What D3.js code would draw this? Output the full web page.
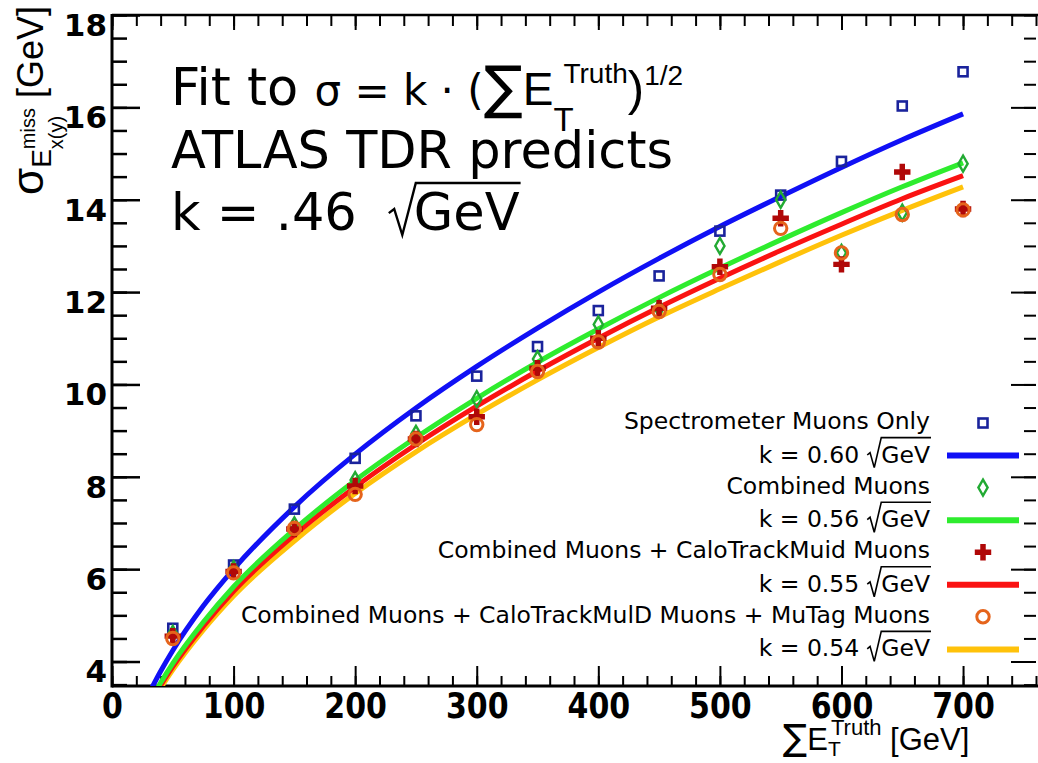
<!DOCTYPE html>
<html>
<head>
<meta charset="utf-8">
<script src="https://cdn.jsdelivr.net/npm/d3@7"></script>
<style>
  body { margin: 0; background: #fff; }
  svg { display: block; }
  svg text { white-space: pre; }
</style>
</head>
<body>
<div id="plot"></div>
<script>
// sum E_T^Truth bins (GeV)
const sumEt = [50, 100, 150, 200, 250, 300, 350, 400, 450, 500, 550, 600, 650, 700];
// sigma of E_x(y)^miss (GeV)
const spectrometer = [4.72, 6.09, 7.30, 8.40, 9.32, 10.18, 10.82, 11.60, 12.35, 13.32, 14.10, 14.83, 16.03, 16.77];
const combined     = [4.60, 6.00, 6.95, 7.93, 8.93, 9.68, 10.55, 11.30, 11.65, 13.00, 14.00, 12.85, 13.72, 14.78];
const caloTrack    = [4.55, 5.95, 6.87, 7.80, 8.82, 9.30, 10.35, 11.00, 11.65, 12.55, 13.60, 12.60, 14.60, 13.80];
const muTag        = [4.50, 5.92, 6.88, 7.62, 8.82, 9.13, 10.28, 10.92, 11.58, 12.38, 13.38, 12.85, 13.68, 13.78];

// fitted curves
const fitX      = [30, 40, 50, 75, 100, 150, 200, 250, 300, 350, 400, 450, 500, 550, 600, 650, 700];
const fitSpectr = [3.29, 3.79, 4.24, 5.20, 6.00, 7.35, 8.49, 9.49, 10.39, 11.22, 12.00, 12.73, 13.42, 14.07, 14.70, 15.30, 15.86];
const fitComb   = [3.07, 3.54, 3.96, 4.85, 5.62, 6.86, 7.92, 8.85, 9.70, 10.48, 11.20, 11.88, 12.52, 13.13, 13.72, 14.28, 14.80];
const fitCalo   = [3.01, 3.48, 3.89, 4.76, 5.52, 6.74, 7.78, 8.70, 9.53, 10.29, 11.00, 11.67, 12.30, 12.90, 13.47, 14.02, 14.52];
const fitMuTag  = [2.96, 3.42, 3.82, 4.68, 5.42, 6.61, 7.64, 8.54, 9.35, 10.10, 10.80, 11.46, 12.07, 12.66, 13.23, 13.77, 14.28];

const legendNames = ["Spectrometer Muons Only", "Combined Muons",
  "Combined Muons + CaloTrackMuid Muons", "Combined Muons + CaloTrackMulD Muons + MuTag Muons"];
const fitK = ["0.60", "0.56", "0.55", "0.54"];

const xTicks = [0, 100, 200, 300, 400, 500, 600, 700];
const yTicks = [4, 6, 8, 10, 12, 14, 16, 18];

const W = 1038, H = 763;
const frameL = 112, frameR = 1036, frameT = 15, frameB = 686;

const series = [
  { pts: spectrometer, fit: fitSpectr, mark: "square", mcol: "#1a239c", lcol: "#1010f5" },
  { pts: combined,     fit: fitComb,   mark: "diamond", mcol: "#22aa33", lcol: "#2eec2e" },
  { pts: caloTrack,    fit: fitCalo,   mark: "cross",  mcol: "#b00808", lcol: "#fa1212" },
  { pts: muTag,        fit: fitMuTag,  mark: "circle", mcol: "#e5641c", lcol: "#ffc20a" }
];

const x = d3.scaleLinear().domain([0, 760]).range([frameL, frameR]);
const y = d3.scaleLinear().domain([3.47, 18]).range([frameB, frameT]);

const svg = d3.select("#plot").append("svg")
  .attr("width", W).attr("height", H)
  .style("background", "#fff");

svg.append("defs").append("clipPath").attr("id", "frame")
  .append("rect").attr("x", frameL).attr("y", frameT)
  .attr("width", frameR - frameL).attr("height", frameB - frameT);

// ---- axes
const minorX = d3.range(0, 761, 20);
const minorY = d3.range(3.5, 18.01, 0.5);

function styleAxis(g, w) {
  g.selectAll("line").attr("stroke", "#000").attr("stroke-width", w);
  g.select(".domain").remove();
}

svg.append("g").attr("transform", `translate(0,${frameB})`)
  .call(d3.axisBottom(x).tickValues(minorX).tickSize(-10).tickFormat(""))
  .call(g => styleAxis(g, 2));
svg.append("g").attr("transform", `translate(0,${frameB})`)
  .call(d3.axisBottom(x).tickValues(xTicks).tickSize(-20).tickPadding(5.6).tickFormat(d3.format("d")))
  .call(g => styleAxis(g, 2))
  .call(g => g.selectAll("text")
    .attr("fill", "#000").attr("font-family", "DejaVu Sans").attr("font-weight", "bold")
    .attr("font-size", 30).attr("transform", "scale(1,1.19)"));

svg.append("g").attr("transform", `translate(0,${frameT})`)
  .call(d3.axisTop(x).tickValues(minorX).tickSize(-11).tickFormat(""))
  .call(g => styleAxis(g, 2));
svg.append("g").attr("transform", `translate(0,${frameT})`)
  .call(d3.axisTop(x).tickValues(xTicks).tickSize(-15).tickFormat(""))
  .call(g => styleAxis(g, 2));

svg.append("g").attr("transform", `translate(${frameL},0)`)
  .call(d3.axisLeft(y).tickValues(minorY).tickSize(-15).tickFormat(""))
  .call(g => styleAxis(g, 2.5));
svg.append("g").attr("transform", `translate(${frameL},0)`)
  .call(d3.axisLeft(y).tickValues(yTicks).tickSize(-28).tickPadding(5).tickFormat(d3.format("d")))
  .call(g => styleAxis(g, 2.5))
  .call(g => g.selectAll("text")
    .attr("fill", "#000").attr("font-family", "DejaVu Sans").attr("font-weight", "bold")
    .attr("font-size", 31).attr("dy", "0.85em").attr("y", -6));

svg.append("g").attr("transform", `translate(${frameR},0)`)
  .call(d3.axisRight(y).tickValues(minorY).tickSize(-12).tickFormat(""))
  .call(g => styleAxis(g, 2));
svg.append("g").attr("transform", `translate(${frameR},0)`)
  .call(d3.axisRight(y).tickValues(yTicks).tickSize(-25).tickFormat(""))
  .call(g => styleAxis(g, 2));

// frame lines
svg.append("line").attr("x1", frameL).attr("x2", frameR + 2).attr("y1", frameB).attr("y2", frameB)
  .attr("stroke", "#000").attr("stroke-width", 3);
svg.append("line").attr("x1", frameL).attr("x2", frameR + 2).attr("y1", frameT).attr("y2", frameT)
  .attr("stroke", "#000").attr("stroke-width", 2.5);
svg.append("line").attr("x1", frameL).attr("x2", frameL).attr("y1", frameT - 1).attr("y2", frameB + 1.5)
  .attr("stroke", "#000").attr("stroke-width", 3);

// ---- fit curves
const line = d3.line().x((d, i) => x(fitX[i])).y(d => y(d)).curve(d3.curveMonotoneX);
const curves = svg.append("g").attr("clip-path", "url(#frame)");
series.slice().reverse().forEach(s => {
  curves.append("path").attr("d", line(s.fit))
    .attr("fill", "none").attr("stroke", s.lcol).attr("stroke-width", 5)
    .attr("stroke-linejoin", "round");
});

// ---- markers
function drawMarker(g, kind, col, cx, cy) {
  if (kind === "square") {
    g.append("rect").attr("x", cx - 4.5).attr("y", cy - 4.5).attr("width", 9).attr("height", 9)
      .attr("fill", "none").attr("stroke", col).attr("stroke-width", 2.6);
  } else if (kind === "diamond") {
    g.append("path").attr("transform", `translate(${cx},${cy})`)
      .attr("d", d3.symbol(d3.symbolDiamond, 74)())
      .attr("fill", "none").attr("stroke", col).attr("stroke-width", 2.4);
  } else if (kind === "cross") {
    g.append("path").attr("transform", `translate(${cx},${cy})`)
      .attr("d", d3.symbol(d3.symbolCross, 150)())
      .attr("fill", col);
  } else {
    g.append("circle").attr("cx", cx).attr("cy", cy).attr("r", 6.2)
      .attr("fill", "none").attr("stroke", col).attr("stroke-width", 3);
  }
}

const marks = svg.append("g");
series.forEach(s => {
  s.pts.forEach((v, i) => drawMarker(marks, s.mark, s.mcol, x(sumEt[i]), y(v)));
});

// ---- text helpers
function rich(parent, tx, ty, parts) {
  const g = parent.append("g").attr("transform", `translate(${tx},${ty})`);
  let prevStart = 0, end = 0;
  parts.forEach(p => {
    const start = p.stack ? prevStart : end;
    const t = g.append("text")
      .attr("x", start + (p.dx || 0)).attr("y", p.dy || 0)
      .attr("font-family", p.font || "DejaVu Sans")
      .attr("font-size", p.size)
      .attr("fill", "#000")
      .text(p.t);
    const e = start + (p.dx || 0) + t.node().getComputedTextLength();
    prevStart = start;
    end = p.stack ? Math.max(end, e) : e;
  });
  return { g, width: end };
}

function radical(g, x0, base, up, down, wr, endX, sw) {
  const yt = base - up, yb = base + down, h = yb - yt;
  g.append("path")
    .attr("d", `M${x0},${yb - 0.42 * h} L${x0 + 0.2 * wr},${yb - 0.5 * h} L${x0 + 0.5 * wr},${yb} L${x0 + wr},${yt} L${endX},${yt}`)
    .attr("fill", "none").attr("stroke", "#000").attr("stroke-width", sw)
    .attr("stroke-linejoin", "miter");
}

// k = ... sqrt(GeV), right aligned at xr
function kLabel(parent, xr, base, txt, size, gap, wr, up, down, sw) {
  const g = parent.append("g");
  const a = g.append("text").attr("font-family", "DejaVu Sans").attr("font-size", size).text(txt);
  const b = g.append("text").attr("font-family", "DejaVu Sans").attr("font-size", size).text("GeV");
  const wa = a.node().getComputedTextLength(), wb = b.node().getComputedTextLength();
  const x0 = xr - wb - wr - gap - wa;
  a.attr("x", x0).attr("y", base);
  b.attr("x", xr - wb).attr("y", base);
  radical(g, x0 + wa + gap, base, up, down, wr, xr + 1, sw);
}

// ---- big annotation
const ann = svg.append("g");
rich(ann, 171, 105, [
  { t: "Fit to ", size: 51 },
  { t: "σ = k · (", size: 42 },
  { t: "∑", size: 58, dy: 2 },
  { t: "E", size: 46, font: "Liberation Sans" },
  { t: "T", size: 33, font: "Liberation Sans", dy: 26 },
  { t: "Truth", size: 28, font: "Liberation Sans", dy: -22, stack: true, dx: 10 },
  { t: ")", size: 49, font: "Liberation Sans" },
  { t: "1/2", size: 28, font: "Liberation Sans", dy: -20 }
]);
ann.append("text").attr("x", 171).attr("y", 168)
  .attr("font-family", "DejaVu Sans").attr("font-size", 51).text("ATLAS TDR predicts");
const k3 = ann.append("g");
{
  const a = k3.append("text").attr("x", 171).attr("y", 230)
    .attr("font-family", "DejaVu Sans").attr("font-size", 51).text("k = .46");
  const wa = a.node().getComputedTextLength();
  const r0 = 171 + wa + 32;
  const b = k3.append("text").attr("x", r0 + 25).attr("y", 230)
    .attr("font-family", "DejaVu Sans").attr("font-size", 51).text("GeV");
  const wb = b.node().getComputedTextLength();
  radical(k3, r0, 230, 47, 5, 27, r0 + 25 + wb + 1, 2.4);
}

// ---- legend
const leg = svg.append("g");
const textRight = 930, markX = 983, lineX0 = 947, lineX1 = 1019;
series.forEach((s, i) => {
  const b1 = 429 + i * 64.6, b2 = b1 + 33.6;
  leg.append("text").attr("x", textRight).attr("y", b1).attr("text-anchor", "end")
    .attr("font-family", "DejaVu Sans").attr("font-size", 23.5).attr("fill", "#000")
    .text(legendNames[i]);
  drawMarker(leg, s.mark, s.mcol, markX, b1 - 6);
  kLabel(leg, textRight, b2, "k = " + fitK[i], 23.5, 8, 14, 25, 5, 1.6);
  leg.append("line").attr("x1", lineX0).attr("x2", lineX1).attr("y1", b2 - 7).attr("y2", b2 - 7)
    .attr("stroke", s.lcol).attr("stroke-width", 6);
});

// ---- axis titles
rich(svg, 783, 750, [
  { t: "∑", size: 36 },
  { t: "E", size: 31, font: "Liberation Sans" },
  { t: "T", size: 21, font: "Liberation Sans", dy: 6 },
  { t: "Truth", size: 22, font: "Liberation Sans", dy: -15, stack: true, dx: 3 },
  { t: " [GeV]", size: 31, font: "Liberation Sans" }
]);

const yTitle = svg.append("g").attr("transform", "translate(43,195) rotate(-90)");
rich(yTitle, 0, 0, [
  { t: "σ", size: 44, font: "Liberation Sans" },
  { t: "E", size: 28, font: "Liberation Sans", dy: 8 },
  { t: "x(y)", size: 20, font: "Liberation Sans", dy: 20 },
  { t: "miss", size: 20, font: "Liberation Sans", dy: -8, stack: true },
  { t: " [GeV]", size: 36, font: "Liberation Sans", dx: 0 }
]);
</script>
</body>
</html>
